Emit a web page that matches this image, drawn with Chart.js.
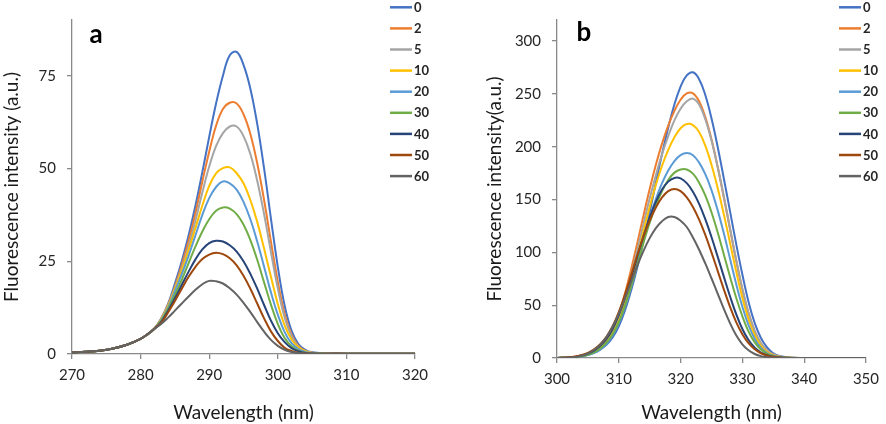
<!DOCTYPE html>
<html>
<head>
    <title>Fluorescence spectra</title>
    <script src="https://cdn.jsdelivr.net/npm/chart.js"></script>
    <style>
        body { margin: 0; background: #fff; }
        .panel { position: absolute; top: 0; width: 443px; height: 424px; }
    </style>
</head>
<body>
    <div class="panel" style="left:0"><canvas id="chartA" width="443" height="424"></canvas></div>
    <div class="panel" style="left:443px"><canvas id="chartB" width="443" height="424"></canvas></div>

    <script>
        const seriesLabels = ['0', '2', '5', '10', '20', '30', '40', '50', '60'];
        const seriesColors = ['#4472C4', '#ED7D31', '#A5A5A5', '#FFC000', '#5B9BD5', '#70AD47', '#264478', '#9E480E', '#636363'];

        // panel a
        const wavelengthsA = [270, 272, 274, 276, 278, 280, 281, 282, 283, 284, 285, 286, 287, 288, 289, 290, 291, 292, 293, 294,
            295, 296, 297, 298, 299, 300, 301, 302, 303, 304, 305, 307, 310, 315, 320];
        const a0 = [0.4, 0.6, 0.9, 1.5, 2.5, 4.1, 5.3, 6.8, 9.6, 13.5, 19, 25, 32, 40, 49, 58.5, 67.5, 75, 80.5, 81.4,
            77.9, 71.5, 62, 50, 36.5, 23.5, 13, 6.3, 2.7, 1.1, 0.45, 0.2, 0.1, 0.1, 0.1];
        const a2 = [0.4, 0.6, 0.9, 1.5, 2.5, 4.1, 5.3, 6.8, 9.5, 13.3, 18.2, 24, 30.5, 38, 46.5, 54.5, 61.5, 66, 67.7, 67.5,
            64.6, 59.3, 51.4, 41.5, 30.3, 19.5, 10.8, 5.2, 2.2, 0.9, 0.35, 0.15, 0.1, 0.1, 0.1];
        const a5 = [0.4, 0.6, 0.9, 1.5, 2.5, 4.1, 5.3, 6.8, 9.4, 13.1, 17.8, 23, 29, 36, 43.5, 50.5, 56, 59.5, 61.3, 61.3,
            58.7, 53.9, 46.7, 37.7, 27.5, 17.7, 9.8, 4.8, 2, 0.8, 0.3, 0.15, 0.1, 0.1, 0.1];
        const a10 = [0.4, 0.6, 0.9, 1.5, 2.5, 4.1, 5.3, 6.8, 9.3, 12.9, 17.4, 22.5, 28, 34, 40, 45.3, 48.7, 50.1, 50.3, 48.7,
            46, 41.5, 35.6, 28.4, 20.8, 13.5, 7.7, 3.9, 1.8, 0.75, 0.3, 0.12, 0.1, 0.1, 0.1];
        const a20 = [0.4, 0.6, 0.9, 1.5, 2.5, 4.1, 5.3, 6.8, 9.1, 12.5, 16.9, 21.5, 26.5, 32, 37.5, 42, 45, 46.5, 46, 44.3,
            41, 36.3, 30.3, 23.5, 16.6, 10.6, 5.9, 2.9, 1.3, 0.55, 0.22, 0.1, 0.1, 0.1, 0.1];
        const a30 = [0.4, 0.6, 0.9, 1.5, 2.5, 4.1, 5.3, 6.8, 8.9, 12.1, 15.9, 20, 24.5, 29, 33, 36.3, 38.6, 39.5, 39.2, 37.7,
            34.9, 30.7, 25.4, 19.3, 13.3, 8.1, 4.3, 2.1, 0.9, 0.36, 0.15, 0.1, 0.1, 0.1, 0.1];
        const a40 = [0.4, 0.6, 0.9, 1.5, 2.5, 4.1, 5.3, 6.8, 8.6, 11.6, 15, 18.6, 22.2, 25.5, 28.2, 29.9, 30.5, 30.3, 29.3, 27.6,
            25, 21.6, 17.6, 13.2, 9, 5.6, 3.2, 1.6, 0.75, 0.3, 0.12, 0.1, 0.1, 0.1, 0.1];
        const a50 = [0.4, 0.6, 0.9, 1.5, 2.5, 4.1, 5.3, 6.8, 8.4, 11.2, 14.3, 17.6, 20.8, 23.5, 25.6, 26.8, 27.3, 26.9, 25.8, 23.9,
            21.1, 17.6, 13.6, 9.6, 6.1, 3.5, 1.7, 0.8, 0.33, 0.13, 0.08, 0.1, 0.1, 0.1, 0.1];
        const a60 = [0.4, 0.6, 0.9, 1.5, 2.5, 4.1, 5.3, 6.8, 8.1, 9.8, 11.7, 13.6, 15.5, 17.3, 18.8, 19.7, 19.6, 19, 17.7, 16,
            13.8, 11.3, 8.6, 6, 3.8, 2.2, 1.15, 0.55, 0.25, 0.1, 0.08, 0.1, 0.1, 0.1, 0.1];
        const xTicksA = [270, 280, 290, 300, 310, 320];
        const yTicksA = [0, 25, 50, 75];

        // panel b
        const wavelengthsB = [300, 302, 303, 304, 305, 306, 307, 308, 309, 310, 311, 312, 313, 314, 315, 316, 317, 318, 319, 320,
            321, 322, 323, 324, 325, 326, 327, 328, 329, 330, 331, 332, 333, 334, 335, 336, 337, 338, 340, 345, 350];
        const b0 = [0.1, 0.5, 0.9, 1.6, 3, 5, 8, 12.5, 19.5, 30, 45, 64, 86, 111, 138, 166, 193, 218, 240, 257,
            267.5, 270.5, 264, 249, 227, 200, 170, 139, 108, 79, 53, 33, 19, 10, 4.5, 2, 0.8, 0.3, 0.05, 0, 0];
        const b2 = [0.1, 0.6, 1.2, 2.3, 4.2, 7.2, 11.5, 18, 28, 42, 61, 84, 109, 135, 160, 183, 203, 220, 234, 244.5,
            250.5, 250.5, 243, 228, 207, 181, 152, 122, 92, 65, 42.5, 25.5, 14, 7.2, 3.4, 1.5, 0.6, 0.25, 0.05, 0, 0];
        const b5 = [0.1, 0.5, 1, 2, 3.7, 6.5, 10.5, 16.5, 25.5, 38.5, 56, 78, 102, 127, 151, 173, 193, 210, 225, 236,
            243, 245.5, 240, 226, 206, 181, 153, 123, 93, 65.5, 42.5, 25.5, 14, 7.2, 3.4, 1.5, 0.6, 0.25, 0.05, 0, 0];
        const b10 = [0.1, 0.4, 0.9, 1.8, 3.3, 5.7, 9.5, 15.2, 23.5, 35.5, 52, 73, 96, 120, 143, 164, 182, 197, 209, 217.5,
            221.5, 220.5, 214, 201, 183, 161, 136, 109, 82, 57, 36.5, 21.5, 11.5, 5.7, 2.6, 1.1, 0.45, 0.15, 0.05, 0, 0];
        const b20 = [0.1, 0.3, 0.7, 1.4, 2.7, 4.8, 8.2, 13.5, 21.5, 33, 48.5, 67.5, 89, 111, 132, 150.5, 165.5, 177.5, 186.5, 192,
            194, 192, 185, 174, 159, 140, 118, 94, 70, 48.5, 31, 18, 9.5, 4.7, 2.1, 0.9, 0.35, 0.12, 0.05, 0, 0];
        const b30 = [0.1, 0.35, 0.8, 1.6, 3, 5.3, 9, 14.5, 22.5, 34, 49.5, 68, 88.5, 109, 128, 144.5, 158, 168.5, 175.5, 178.5,
            178.5, 174.5, 166, 154, 138, 119, 98, 77, 57, 39.5, 25, 14.8, 8, 4, 1.8, 0.8, 0.3, 0.1, 0.05, 0, 0];
        const b40 = [0.1, 0.55, 1.2, 2.3, 4.1, 7, 11.5, 18, 27.5, 40.5, 57, 76, 96, 115.5, 133, 148, 159.5, 167, 170.5, 170,
            165.5, 157.5, 146, 131.5, 114.5, 96, 77, 58.5, 41.5, 27.5, 17, 9.8, 5.2, 2.6, 1.2, 0.5, 0.2, 0.08, 0.05, 0, 0];
        const b50 = [0.1, 0.7, 1.5, 2.8, 4.9, 8.2, 13, 20, 30, 43.5, 60, 78.5, 97.5, 115, 130, 142.5, 152, 158, 160, 158,
            152, 143, 131, 116.5, 100, 82.5, 65, 48.5, 34, 22.5, 14, 8.2, 4.5, 2.3, 1.1, 0.5, 0.2, 0.08, 0.05, 0, 0];
        const b60 = [0.1, 0.4, 1, 2.2, 4.3, 7.6, 12.6, 19.8, 29.5, 42, 56.5, 72, 87.5, 101.5, 113.5, 123, 129.5, 133.5, 133.5, 130,
            124, 114, 102.5, 89.5, 75.5, 61, 46.5, 33, 21.5, 13, 7.3, 3.8, 1.8, 0.8, 0.35, 0.15, 0.06, 0.02, 0.02, 0, 0];
        const xTicksB = [300, 310, 320, 330, 340, 350];
        const yTicksB = [0, 50, 100, 150, 200, 250, 300];

        Chart.defaults.font.family = 'Lato, sans-serif';
        Chart.defaults.color = '#262626';

        function buildDatasets(wl, series) {
            return series.map((vals, i) => ({
                label: seriesLabels[i],
                data: wl.map((x, j) => ({ x: x, y: vals[j] })),
                borderColor: seriesColors[i],
                borderWidth: 2,
                pointRadius: 0,
                tension: 0.4,
                fill: false,
                order: series.length - i
            }));
        }

        // panel letter and the vertical legend, drawn over the plot like the Excel original
        function panelDecor(letter, letterX, letterY, legendX) {
            return {
                id: 'panelDecor',
                afterDraw(chart) {
                    const ctx = chart.ctx;
                    ctx.save();
                    ctx.font = 'bold 26px Lato';
                    ctx.fillStyle = '#000';
                    ctx.textAlign = 'center';
                    ctx.textBaseline = 'middle';
                    ctx.fillText(letter, letterX, letterY);
                    ctx.font = 'bold 13px Lato';
                    ctx.textAlign = 'left';
                    chart.data.datasets.forEach((ds, i) => {
                        const y = 7.3 + i * 21.1;
                        ctx.strokeStyle = ds.borderColor;
                        ctx.lineWidth = 2.5;
                        ctx.beginPath();
                        ctx.moveTo(legendX, y);
                        ctx.lineTo(legendX + 22, y);
                        ctx.stroke();
                        ctx.fillStyle = '#262626';
                        ctx.fillText(ds.label, legendX + 24, y + 0.5);
                    });
                    ctx.restore();
                }
            };
        }

        function axisOpts(min, max, ticks, title, fitSize, horizontal) {
            return {
                type: 'linear',
                min: min,
                max: max,
                afterBuildTicks: s => { s.ticks = ticks.map(v => ({ value: v })); },
                afterFit: s => { if (horizontal) s.height = fitSize; else s.width = fitSize; },
                grid: { drawOnChartArea: false, drawTicks: true, tickLength: 5, color: '#898989', lineWidth: 1.3 },
                border: { display: true, color: '#898989', width: 1.3 },
                ticks: { font: { size: 15 }, color: '#262626', padding: horizontal ? 7 : 11, maxRotation: 0 },
                title: { display: true, text: title, font: { size: 19 }, color: '#1a1a1a', padding: { top: 0, bottom: 0 } }
            };
        }

        function makeChart(id, wl, series, xr, yr, xTitle, yTitle, padding, yWidth, xHeight, decor) {
            return new Chart(document.getElementById(id).getContext('2d'), {
                type: 'line',
                data: { datasets: buildDatasets(wl, series) },
                options: {
                    responsive: false,
                    animation: false,
                    layout: { padding: padding },
                    plugins: { legend: { display: false }, tooltip: { enabled: false } },
                    scales: {
                        x: axisOpts(xr[0], xr[1], xr[2], xTitle, xHeight, true),
                        y: axisOpts(yr[0], yr[1], yr[2], yTitle, yWidth, false)
                    }
                },
                plugins: [decor]
            });
        }

        const chartA = makeChart('chartA', wavelengthsA, [a0, a2, a5, a10, a20, a30, a40, a50, a60],
            [270, 320, xTicksA], [0, 90, yTicksA], 'Wavelength (nm)', 'Fluorescence intensity (a.u.)',
            { left: 0, right: 28, top: 13, bottom: 0 }, 72, 70, panelDecor('a', 96, 35, 390));

        const chartB = makeChart('chartB', wavelengthsB, [b0, b2, b5, b10, b20, b30, b40, b50, b60],
            [300, 350, xTicksB], [0, 320, yTicksB], 'Wavelength (nm)', 'Fluorescence intensity(a.u.)',
            { left: 40, right: 15, top: 13, bottom: 0 }, 74, 66, panelDecor('b', 141, 33, 396));
    </script>
</body>
</html>
